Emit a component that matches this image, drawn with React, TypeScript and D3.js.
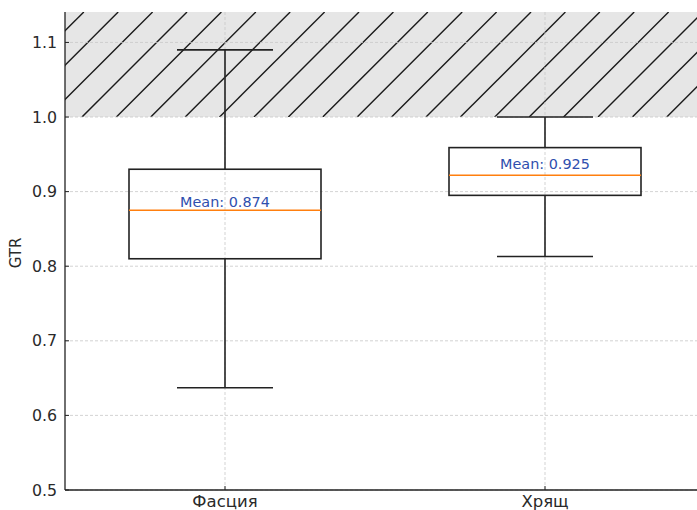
import React from "react";
import * as d3 from "d3";

const categories = ["Фасция", "Хрящ"];
const whiskerLow = [0.637, 0.813];
const q1 = [0.81, 0.895];
const medians = [0.875, 0.922];
const q3 = [0.93, 0.959];
const whiskerHigh = [1.09, 1.0];
const means = [0.874, 0.925];
const yTicks = [0.5, 0.6, 0.7, 0.8, 0.9, 1.0, 1.1];
const threshold = 1.0;

const W = 697;
const H = 510;
const left = 65;
const right = 705;
const top = 12;
const bottom = 490;

export default function App() {
  const x = d3.scaleLinear().domain([0.5, 2.5]).range([left, right]);
  const y = d3.scaleLinear().domain([0.5, 1.1408]).range([bottom, top]);
  const font = "DejaVu Sans, sans-serif";
  const boxW = x(1.3) - x(1);
  const capW = x(1.15) - x(1);

  const yT = y(threshold);
  const period = 34.4;
  const phase = 199;
  const hatch: { x1: number; y1: number; x2: number; y2: number }[] = [];
  for (let k = -20; k < 40; k++) {
    const c = phase + k * period;
    hatch.push({ x1: c - yT, y1: yT, x2: c - top, y2: top });
  }

  return (
    <svg width={W} height={H} style={{ position: "absolute", left: 0, top: 0, background: "#fff" }}>
      <defs>
        <clipPath id="hclip">
          <rect x={left} y={top} width={right - left} height={yT - top} />
        </clipPath>
      </defs>
      <rect x={left} y={top} width={right - left} height={yT - top} fill="#e6e6e6" />
      <g clipPath="url(#hclip)">
        {hatch.map((h, i) => (
          <line key={i} x1={h.x1} y1={h.y1} x2={h.x2} y2={h.y2} stroke="#1a1a1a" strokeWidth={1.4} />
        ))}
      </g>
      {yTicks.map((t) => (
        <line key={t} x1={left} x2={right} y1={y(t)} y2={y(t)} stroke="#c8c8c8" strokeWidth={0.8} strokeDasharray="3,2" />
      ))}
      {categories.map((c, i) => (
        <line key={c} x1={x(i + 1)} x2={x(i + 1)} y1={top} y2={bottom} stroke="#c8c8c8" strokeWidth={0.8} strokeDasharray="3,2" />
      ))}
      {categories.map((c, i) => {
        const cx = x(i + 1);
        return (
          <g key={c}>
            <line x1={cx} x2={cx} y1={y(q3[i])} y2={y(whiskerHigh[i])} stroke="#222" strokeWidth={1.6} />
            <line x1={cx} x2={cx} y1={y(q1[i])} y2={y(whiskerLow[i])} stroke="#222" strokeWidth={1.6} />
            <line x1={cx - capW} x2={cx + capW} y1={y(whiskerHigh[i])} y2={y(whiskerHigh[i])} stroke="#222" strokeWidth={1.6} />
            <line x1={cx - capW} x2={cx + capW} y1={y(whiskerLow[i])} y2={y(whiskerLow[i])} stroke="#222" strokeWidth={1.6} />
            <rect x={cx - boxW} y={y(q3[i])} width={2 * boxW} height={y(q1[i]) - y(q3[i])} fill="none" stroke="#222" strokeWidth={1.6} />
            <line x1={cx - boxW} x2={cx + boxW} y1={y(medians[i])} y2={y(medians[i])} stroke="#ff7f0e" strokeWidth={1.5} />
            <text x={cx} y={y(means[i] + 0.005)} textAnchor="middle" fontFamily={font} fontSize={14.4} fill="#2f4fae">
              {`Mean: ${means[i].toFixed(3)}`}
            </text>
          </g>
        );
      })}
      <line x1={left} x2={left} y1={top} y2={bottom} stroke="#222" strokeWidth={1.3} />
      <line x1={left} x2={right} y1={bottom} y2={bottom} stroke="#222" strokeWidth={1.3} />
      {yTicks.map((t) => (
        <g key={t}>
          <line x1={left} x2={left + 4} y1={y(t)} y2={y(t)} stroke="#222" strokeWidth={1} />
          <text x={57} y={y(t)} dy="0.36em" textAnchor="end" fontFamily={font} fontSize={15.8} fill="#2a2a2a">
            {t.toFixed(1)}
          </text>
        </g>
      ))}
      {categories.map((c, i) => (
        <g key={c}>
          <line x1={x(i + 1)} x2={x(i + 1)} y1={bottom} y2={bottom - 4} stroke="#222" strokeWidth={1} />
          <text x={x(i + 1)} y={507} textAnchor="middle" fontFamily={font} fontSize={16.5} fill="#2a2a2a">
            {c}
          </text>
        </g>
      ))}
      <text transform={`translate(21,${(top + bottom) / 2 + 2}) rotate(-90)`} textAnchor="middle" fontFamily={font} fontSize={15} fill="#2a2a2a">
        GTR
      </text>
    </svg>
  );
}
